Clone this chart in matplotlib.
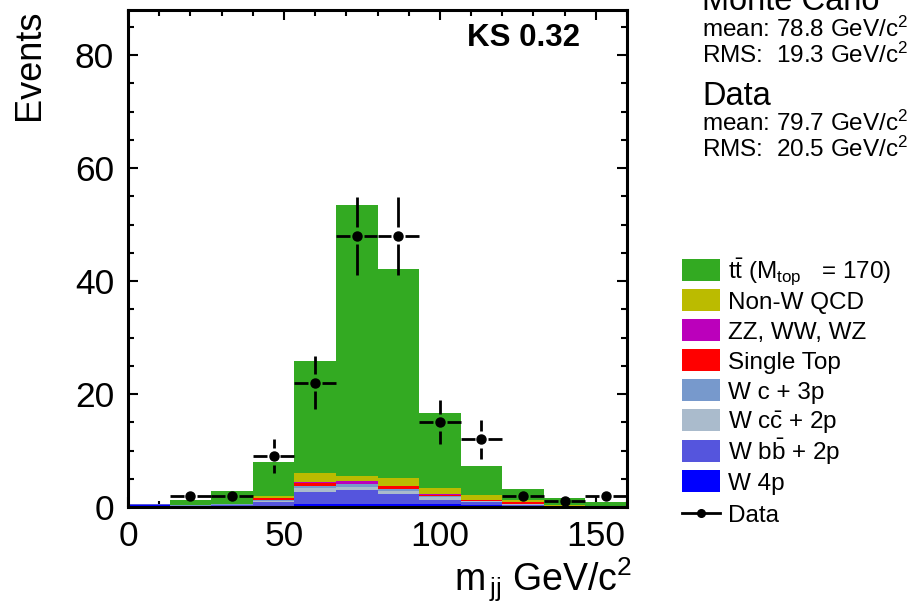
import numpy as np
import matplotlib
matplotlib.use("Agg")
import matplotlib.pyplot as plt
from matplotlib.patches import Rectangle
from matplotlib.lines import Line2D
from matplotlib.ticker import MultipleLocator

plt.rcParams['font.family'] = ['Liberation Sans', 'DejaVu Sans']
plt.rcParams['mathtext.fontset'] = 'custom'
plt.rcParams['mathtext.rm'] = 'Liberation Sans'
plt.rcParams['mathtext.it'] = 'Liberation Sans:italic'
plt.rcParams['mathtext.bf'] = 'Liberation Sans:bold'

# ---- data ----
bin_edges = np.linspace(0, 160, 13)
w4p   = [0.3, 0.1, 0.1, 0.2, 0.5, 0.6, 0.6, 0.5, 0.3, 0.2, 0.15, 0.15]
wbb   = [0.2, 0.1, 0.2, 0.6, 2.2, 2.4, 1.7, 0.8, 0.5, 0.2, 0.05, 0.05]
wcc   = [0.0, 0.05, 0.1, 0.3, 0.6, 0.6, 0.5, 0.4, 0.2, 0.1, 0.05, 0.0]
wc3p  = [0.0, 0.05, 0.1, 0.2, 0.4, 0.4, 0.3, 0.3, 0.1, 0.1, 0.0, 0.0]
stop  = [0.0, 0.0, 0.0, 0.3, 0.6, 0.15, 0.6, 0.2, 0.1, 0.2, 0.0, 0.0]
diboson = [0.0, 0.0, 0.0, 0.05, 0.1, 0.4, 0.1, 0.1, 0.05, 0.1, 0.0, 0.0]
qcd   = [0.0, 0.0, 0.0, 0.3, 1.6, 0.9, 1.3, 1.0, 0.85, 0.3, 0.05, 0.0]
ttbar = [0.0, 0.9, 2.3, 6.05, 19.8, 47.95, 37.0, 13.3, 5.2, 2.0, 1.3, 0.7]

data_x = [20.0, 33.33, 46.67, 60.0, 73.33, 86.67, 100.0, 113.33, 126.67, 140.0, 153.33]
data_y = [2, 2, 9, 22, 48, 48, 15, 12, 2, 1, 2]

components = [
    (w4p, '#0000FF', 'W 4p'),
    (wbb, '#5555DD', r'W b$\bar{\rm b}$ + 2p'),
    (wcc, '#AABBCC', r'W c$\bar{\rm c}$ + 2p'),
    (wc3p, '#7799CC', 'W c + 3p'),
    (stop, '#FF0000', 'Single Top'),
    (diboson, '#BB00BB', 'ZZ, WW, WZ'),
    (qcd, '#BBBB00', 'Non-W QCD'),
    (ttbar, '#33AA22', r't$\bar{\rm t}$ (M$_{\rm top}$   = 170)'),
]

W, H = 914, 607
fig = plt.figure(figsize=(W/100, H/100), dpi=100)
ax = fig.add_axes([128/W, 1-507/H, (627-128)/W, (507-10)/H])

widths = np.diff(bin_edges)
left = bin_edges[:-1]
bottom = np.zeros(len(left))
for vals, col, lab in components:
    v = np.array(vals)
    ax.bar(left, v, width=widths, bottom=bottom, align='edge', color=col,
           linewidth=0, zorder=2)
    bottom = bottom + v

# data points with ROOT-style gapped error bars
half = widths[0] / 2
gap_x, gap_y = 2.2, 1.5
dx = np.array(data_x); dy = np.array(data_y, dtype=float)
err = np.sqrt(dy)
ax.hlines(dy, dx - half, dx - gap_x, color='black', lw=2.0, zorder=4)
ax.hlines(dy, dx + gap_x, dx + half, color='black', lw=2.0, zorder=4)
m = err > gap_y
ax.vlines(dx[m], dy[m] + gap_y, dy[m] + err[m], color='black', lw=2.0, zorder=4)
ax.vlines(dx[m], dy[m] - err[m], dy[m] - gap_y, color='black', lw=2.0, zorder=4)
ax.plot(dx, dy, 'o', color='black', ms=6.5, zorder=5)

ax.set_xlim(0, 160)
ax.set_ylim(0, 88)
ax.xaxis.set_major_locator(MultipleLocator(50))
ax.xaxis.set_minor_locator(MultipleLocator(10))
ax.yaxis.set_major_locator(MultipleLocator(20))
ax.yaxis.set_minor_locator(MultipleLocator(5))
ax.tick_params(which='both', direction='in', top=True, right=True, width=1.5)
ax.tick_params(which='major', length=7.5, labelsize=25.5)
ax.tick_params(axis='x', which='major', pad=9)
ax.tick_params(axis='y', which='major', pad=10)
ax.tick_params(which='minor', length=4)
for s in ax.spines.values():
    s.set_linewidth(2.2)

ax.set_ylabel('Events', fontsize=26, loc='top', labelpad=20)
ax.set_xlabel(r'm$_{\,\rm jj}$ GeV/c$^2$', fontsize=27, loc='right', labelpad=2)
ax.xaxis.label.set_x(1.01)

ax.text(0.906, 0.944, 'KS 0.32', transform=ax.transAxes, fontsize=22.5,
        fontweight='bold', ha='right', va='center')

# side statistics text
xs = 702/W
fig.text(xs, 1-10/H, 'Monte Carlo', fontsize=23.5, va='baseline')
fig.text(xs, 1-37/H, r'mean: 78.8 GeV/c$^2$', fontsize=17.5, va='baseline')
fig.text(xs, 1-63/H, r'RMS:  19.3 GeV/c$^2$', fontsize=17.5, va='baseline')
fig.text(xs, 1-105/H, 'Data', fontsize=23.5, va='baseline')
fig.text(xs, 1-131/H, r'mean: 79.7 GeV/c$^2$', fontsize=17.5, va='baseline')
fig.text(xs, 1-157/H, r'RMS:  20.5 GeV/c$^2$', fontsize=17.5, va='baseline')

# legend (ROOT-style, uniform rows)
row_y = [270, 300, 330, 360, 390, 420, 451, 481, 513]
for (vals, col, lab), yc in zip(components[::-1], row_y):
    fig.patches.append(Rectangle((682/W, 1-(yc+11)/H), 38/W, 22/H,
                                 transform=fig.transFigure, facecolor=col,
                                 edgecolor='none'))
    fig.text(728/W, 1-(yc+9)/H, lab, fontsize=17.5, va='baseline')
yd = row_y[-1]
fig.add_artist(Line2D([682/W, 720/W], [1-yd/H, 1-yd/H], color='black', lw=2,
                      transform=fig.transFigure))
fig.add_artist(Line2D([701/W], [1-yd/H], color='black', marker='o', ms=5.5,
                      transform=fig.transFigure))
fig.text(728/W, 1-(yd+9)/H, 'Data', fontsize=17.5, va='baseline')

fig.savefig('out.png', dpi=100)
